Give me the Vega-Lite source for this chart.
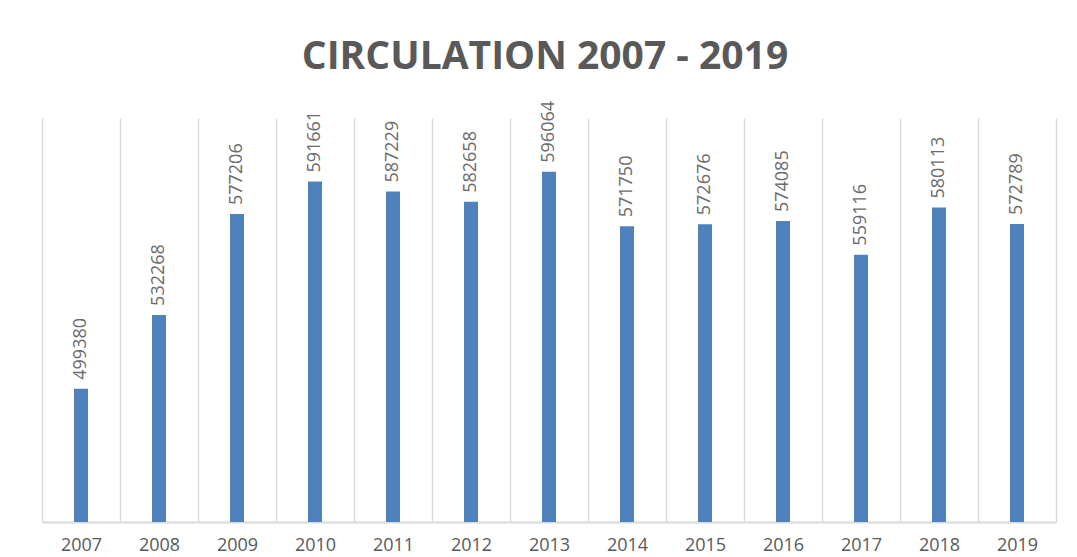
{
  "$schema": "https://vega.github.io/schema/vega-lite/v6.json",
  "width": 1014,
  "height": 404,
  "autosize": {"type": "none"},
  "padding": {"left": 42, "top": 118, "right": 21, "bottom": 35},
  "background": "white",
  "title": {
    "text": "CIRCULATION 2007 - 2019",
    "font": "Open Sans",
    "fontSize": 39,
    "fontWeight": "bold",
    "color": "#595959",
    "anchor": "middle",
    "dx": -4,
    "offset": 24
  },
  "data": {
    "values": [
      {"year": "2007", "circulation": 499380},
      {"year": "2008", "circulation": 532268},
      {"year": "2009", "circulation": 577206},
      {"year": "2010", "circulation": 591661},
      {"year": "2011", "circulation": 587229},
      {"year": "2012", "circulation": 582658},
      {"year": "2013", "circulation": 596064},
      {"year": "2014", "circulation": 571750},
      {"year": "2015", "circulation": 572676},
      {"year": "2016", "circulation": 574085},
      {"year": "2017", "circulation": 559116},
      {"year": "2018", "circulation": 580113},
      {"year": "2019", "circulation": 572789}
    ]
  },
  "encoding": {
    "x": {
      "field": "year",
      "type": "ordinal",
      "scale": {"paddingInner": 0, "paddingOuter": 0},
      "axis": {
        "title": null,
        "labelAngle": 0,
        "labelFont": "Open Sans",
        "labelFontSize": 18,
        "labelColor": "#595959",
        "labelPadding": 14,
        "ticks": false,
        "domainColor": "#d9d9d9",
        "domainWidth": 2,
        "grid": true,
        "gridColor": "#d9d9d9",
        "gridWidth": 1.5,
        "tickBand": "extent"
      }
    },
    "y": {
      "field": "circulation",
      "type": "quantitative",
      "scale": {"domain": [440000, 620000], "zero": false, "nice": false},
      "axis": null
    }
  },
  "layer": [
    {
      "mark": {"type": "bar", "size": 14, "color": "#4f81bd", "clip": true}
    },
    {
      "mark": {
        "type": "text",
        "angle": -90,
        "align": "left",
        "baseline": "middle",
        "dx": 9,
        "font": "Open Sans",
        "fontSize": 18,
        "color": "#6b6b6b"
      },
      "encoding": {"text": {"field": "circulation", "type": "quantitative", "format": "d"}}
    }
  ],
  "config": {"view": {"stroke": null}}
}
